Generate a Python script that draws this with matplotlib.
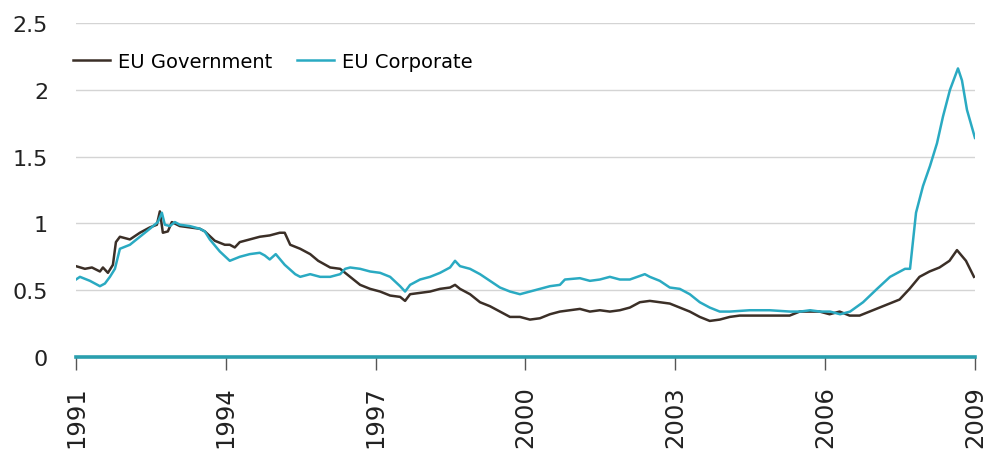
import matplotlib.pyplot as plt

# EU Government series (year, value)
gov_years = [1991.00, 1991.18, 1991.32, 1991.48, 1991.54, 1991.64, 1991.74, 1991.80, 1991.88,
             1992.08, 1992.28, 1992.48, 1992.62, 1992.68, 1992.74, 1992.84, 1992.92, 1993.08,
             1993.28, 1993.48, 1993.58, 1993.78, 1993.98, 1994.08, 1994.18, 1994.28, 1994.48,
             1994.68, 1994.88, 1995.08, 1995.18, 1995.29, 1995.49, 1995.69, 1995.85, 1996.09,
             1996.29, 1996.49, 1996.69, 1996.89, 1997.09, 1997.29, 1997.49, 1997.59, 1997.69,
             1997.89, 1998.09, 1998.29, 1998.49, 1998.59, 1998.69, 1998.89, 1999.09, 1999.29,
             1999.49, 1999.69, 1999.89, 2000.09, 2000.29, 2000.49, 2000.69, 2000.89, 2001.09,
             2001.29, 2001.49, 2001.69, 2001.89, 2002.09, 2002.29, 2002.49, 2002.69, 2002.89,
             2003.09, 2003.29, 2003.49, 2003.69, 2003.89, 2004.09, 2004.29, 2004.49, 2004.69,
             2004.89, 2005.09, 2005.29, 2005.49, 2005.69, 2005.89, 2006.09, 2006.29, 2006.49,
             2006.69, 2006.89, 2007.09, 2007.29, 2007.49, 2007.69, 2007.89, 2008.09, 2008.29,
             2008.49, 2008.64, 2008.82, 2008.98]
gov_values = [0.68, 0.66, 0.67, 0.64, 0.67, 0.63, 0.69, 0.86, 0.90,
              0.88, 0.93, 0.97, 0.99, 1.09, 0.93, 0.94, 1.01, 0.98,
              0.97, 0.96, 0.94, 0.87, 0.84, 0.84, 0.82, 0.86, 0.88,
              0.90, 0.91, 0.93, 0.93, 0.84, 0.81, 0.77, 0.72, 0.67,
              0.66, 0.60, 0.54, 0.51, 0.49, 0.46, 0.45, 0.42, 0.47,
              0.48, 0.49, 0.51, 0.52, 0.54, 0.51, 0.47, 0.41, 0.38,
              0.34, 0.30, 0.30, 0.28, 0.29, 0.32, 0.34, 0.35, 0.36,
              0.34, 0.35, 0.34, 0.35, 0.37, 0.41, 0.42, 0.41, 0.40,
              0.37, 0.34, 0.30, 0.27, 0.28, 0.30, 0.31, 0.31, 0.31,
              0.31, 0.31, 0.31, 0.34, 0.34, 0.34, 0.32, 0.34, 0.31,
              0.31, 0.34, 0.37, 0.40, 0.43, 0.51, 0.60, 0.64, 0.67,
              0.72, 0.80, 0.72, 0.60]

# EU Corporate series (year, value)
corp_years = [1991.00, 1991.08, 1991.28, 1991.48, 1991.58, 1991.68, 1991.78, 1991.88, 1992.08,
              1992.28, 1992.48, 1992.64, 1992.72, 1992.78, 1992.88, 1992.98, 1993.08, 1993.28,
              1993.48, 1993.58, 1993.68, 1993.88, 1994.08, 1994.28, 1994.48, 1994.68, 1994.78,
              1994.88, 1995.00, 1995.18, 1995.39, 1995.49, 1995.69, 1995.89, 1996.09, 1996.29,
              1996.39, 1996.49, 1996.69, 1996.89, 1997.09, 1997.29, 1997.49, 1997.59, 1997.69,
              1997.89, 1998.09, 1998.29, 1998.49, 1998.59, 1998.69, 1998.89, 1999.09, 1999.29,
              1999.49, 1999.69, 1999.89, 2000.09, 2000.29, 2000.49, 2000.69, 2000.79, 2001.09,
              2001.29, 2001.49, 2001.69, 2001.89, 2002.09, 2002.39, 2002.49, 2002.69, 2002.89,
              2003.09, 2003.29, 2003.49, 2003.69, 2003.89, 2004.09, 2004.49, 2004.89, 2005.30,
              2005.50, 2005.70, 2005.90, 2006.10, 2006.30, 2006.50, 2006.76, 2007.04, 2007.30,
              2007.60, 2007.70, 2007.82, 2007.96, 2008.10, 2008.24, 2008.36, 2008.50, 2008.66,
              2008.74, 2008.84, 2009.00]
corp_values = [0.58, 0.60, 0.57, 0.53, 0.55, 0.60, 0.66, 0.81, 0.84,
               0.90, 0.96, 1.01, 1.08, 0.99, 0.98, 1.01, 0.99, 0.98,
               0.96, 0.94, 0.88, 0.79, 0.72, 0.75, 0.77, 0.78, 0.76,
               0.73, 0.77, 0.69, 0.62, 0.60, 0.62, 0.60, 0.60, 0.62,
               0.66, 0.67, 0.66, 0.64, 0.63, 0.60, 0.53, 0.49, 0.54,
               0.58, 0.60, 0.63, 0.67, 0.72, 0.68, 0.66, 0.62, 0.57,
               0.52, 0.49, 0.47, 0.49, 0.51, 0.53, 0.54, 0.58, 0.59,
               0.57, 0.58, 0.60, 0.58, 0.58, 0.62, 0.60, 0.57, 0.52,
               0.51, 0.47, 0.41, 0.37, 0.34, 0.34, 0.35, 0.35, 0.34,
               0.34, 0.35, 0.34, 0.34, 0.32, 0.34, 0.41, 0.51, 0.60,
               0.66, 0.66, 1.08, 1.28, 1.43, 1.60, 1.80, 2.00, 2.16,
               2.07, 1.85, 1.64]

year_ticks = [1991, 1994, 1997, 2000, 2003, 2006, 2009]
y_ticks = [0, 0.5, 1, 1.5, 2, 2.5]
y_labels = ["0", "0.5", "1", "1.5", "2", "2.5"]

gov_color = "#3b2f27"
corp_color = "#2aaac2"
axis_color = "#2a9fae"

fig = plt.figure(figsize=(9.89, 4.56), dpi=100)
ax = fig.add_axes([0.0768, 0.2149, 0.909, 0.7325])

ax.plot(gov_years, gov_values, color=gov_color, lw=1.8, label="EU Government")
ax.plot(corp_years, corp_values, color=corp_color, lw=1.8, label="EU Corporate")

ax.set_xlim(1991, 2009)
ax.set_ylim(0, 2.5)
ax.set_yticks(y_ticks)
ax.set_yticklabels(y_labels)
ax.set_xticks(year_ticks)
ax.set_xticklabels([str(y) for y in year_ticks], rotation=90)

for v in y_ticks[1:]:
    ax.axhline(v, color="#d4d4d4", lw=1, zorder=0)

for side in ["left", "right", "top"]:
    ax.spines[side].set_visible(False)
ax.spines["bottom"].set_color(axis_color)
ax.spines["bottom"].set_linewidth(2.6)
ax.spines["bottom"].set_clip_on(False)

ax.tick_params(axis="y", length=0, pad=20, labelsize=16, labelcolor="#222222")
ax.tick_params(axis="x", length=9, width=1, color="#555555", pad=11,
               labelsize=17.5, labelcolor="#222222")

ax.legend(loc="center left", bbox_to_anchor=(73 / 989, 1 - 62 / 456),
          bbox_transform=fig.transFigure, ncol=2, frameon=False, fontsize=14,
          borderpad=0, borderaxespad=0, handlelength=1.9, handletextpad=0.4,
          columnspacing=1.3)

fig.savefig("out.png", dpi=100)
